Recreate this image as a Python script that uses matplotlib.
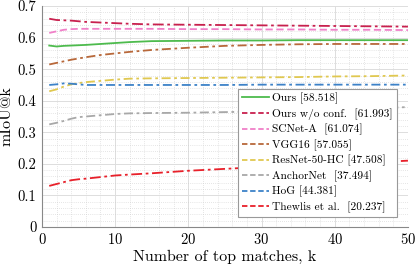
import matplotlib
matplotlib.use("Agg")
import matplotlib.pyplot as plt
from matplotlib.lines import Line2D
from matplotlib.ticker import MultipleLocator
import numpy as np

plt.rcParams['font.family'] = ['cmr10', 'DejaVu Serif']
plt.rcParams['axes.formatter.use_mathtext'] = True
plt.rcParams['mathtext.fontset'] = 'cm'

k = [1, 2, 3, 4, 5, 6, 8, 10, 12, 15, 20, 25, 30, 35, 40, 45, 50]

series_names = ["Ours [58.518]", "Ours w/o conf.  [61.993]", "SCNet-A  [61.074]",
                "VGG16 [57.055]", "ResNet-50-HC [47.508]", "AnchorNet  [37.494]",
                "HoG [44.381]", "Thewlis et al.  [20.237]"]

ours =      [0.575, 0.572, 0.574, 0.575, 0.576, 0.577, 0.580, 0.583, 0.586, 0.589, 0.590, 0.591, 0.591, 0.592, 0.592, 0.592, 0.592]
ours_noc =  [0.660, 0.656, 0.655, 0.654, 0.652, 0.650, 0.648, 0.646, 0.644, 0.642, 0.641, 0.640, 0.639, 0.638, 0.637, 0.636, 0.635]
scnet =     [0.615, 0.620, 0.625, 0.627, 0.628, 0.628, 0.628, 0.628, 0.628, 0.628, 0.627, 0.627, 0.626, 0.626, 0.625, 0.625, 0.624]
vgg =       [0.515, 0.520, 0.525, 0.530, 0.534, 0.538, 0.545, 0.550, 0.555, 0.561, 0.568, 0.574, 0.577, 0.579, 0.580, 0.580, 0.580]
resnet =    [0.430, 0.436, 0.445, 0.452, 0.456, 0.459, 0.463, 0.467, 0.470, 0.471, 0.472, 0.473, 0.474, 0.475, 0.477, 0.478, 0.480]
anchor =    [0.325, 0.330, 0.336, 0.343, 0.348, 0.350, 0.354, 0.358, 0.360, 0.361, 0.362, 0.364, 0.366, 0.368, 0.370, 0.375, 0.380]
hog =       [0.450, 0.452, 0.455, 0.454, 0.452, 0.450, 0.450, 0.450, 0.450, 0.450, 0.450, 0.450, 0.451, 0.451, 0.451, 0.451, 0.451]
thewlis =   [0.130, 0.136, 0.142, 0.148, 0.151, 0.153, 0.158, 0.163, 0.166, 0.170, 0.178, 0.184, 0.190, 0.195, 0.199, 0.204, 0.210]

all_series = [ours, ours_noc, scnet, vgg, resnet, anchor, hog, thewlis]
colors = ["#4dbb4d", "#c8204e", "#f080c8", "#b8683a", "#e0c850", "#a8a8a8", "#3d82c8", "#e8202a"]
styles = ["-", (0, (6, 2, 1.5, 2)), (0, (4, 2)), (0, (5, 2, 1.5, 2)), (0, (5, 2, 1.5, 2)),
          (0, (5, 2, 1.5, 2)), (0, (5, 2, 1.5, 2)), (0, (6, 2, 1.5, 2))]

fig = plt.figure(figsize=(4.15, 2.66), dpi=100)
ax = fig.add_axes([0.101, 0.147, 0.882, 0.83])

for s, c, ls in zip(all_series, colors, styles):
    ax.plot(k, s, color=c, linestyle=ls, linewidth=1.3)

ax.set_xlim(0, 50)
ax.set_ylim(0, 0.7)
ax.xaxis.set_major_locator(MultipleLocator(10))
ax.xaxis.set_minor_locator(MultipleLocator(2))
ax.yaxis.set_major_locator(MultipleLocator(0.1))
ax.yaxis.set_minor_locator(MultipleLocator(0.02))
ax.set_yticks([0, 0.1, 0.2, 0.3, 0.4, 0.5, 0.6, 0.7])
ax.set_yticklabels(["0", "0.1", "0.2", "0.3", "0.4", "0.5", "0.6", "0.7"])
ax.grid(which='major', color='#dddddd', linewidth=0.7, linestyle='-')
ax.grid(which='minor', color='#cccccc', linewidth=0.5, linestyle=(0, (1, 2)))
ax.set_axisbelow(True)
ax.tick_params(which='both', direction='in', length=0, labelsize=10.5, pad=4, color='#888888')
for sp in ['top', 'right']:
    ax.spines[sp].set_visible(False)
for sp in ['left', 'bottom']:
    ax.spines[sp].set_color('#888888')
    ax.spines[sp].set_linewidth(0.8)

ax.set_xlabel("Number of top matches, k", fontsize=11.5, labelpad=2)
ax.set_ylabel("mIoU@k", fontsize=11.5, labelpad=3)

handles = [Line2D([], [], color=colors[0], linestyle='-', linewidth=1.3)]
for c in colors[1:]:
    handles.append(Line2D([], [], color=c, linestyle=(0, (3, 1.5)), linewidth=1.3))
leg = ax.legend(handles, series_names, loc='lower right', bbox_to_anchor=(0.97, 0.045),
                fontsize=8.2, frameon=True, fancybox=False, framealpha=1,
                edgecolor='#999999', handlelength=2.4, handletextpad=0.3,
                labelspacing=0.36, borderpad=0.35, borderaxespad=0)
leg.get_frame().set_linewidth(0.8)

fig.savefig("out.png", dpi=100)
